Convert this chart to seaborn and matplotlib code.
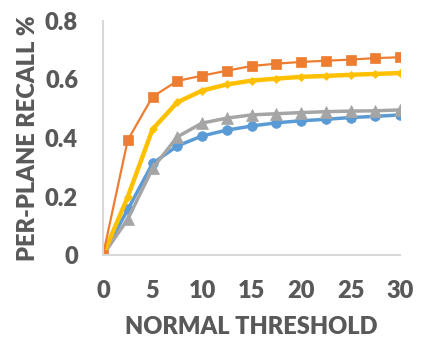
import pandas as pd
import matplotlib.pyplot as plt
import seaborn as sns

# Data
thresholds = [0, 2.5, 5, 7.5, 10, 12.5, 15, 17.5, 20, 22.5, 25, 27.5, 30]
blue_recall = [0, 0.156, 0.313, 0.373, 0.407, 0.427, 0.441, 0.452, 0.459, 0.464, 0.470, 0.474, 0.479]
orange_recall = [0, 0.393, 0.541, 0.595, 0.613, 0.630, 0.646, 0.654, 0.660, 0.664, 0.668, 0.673, 0.676]
gray_recall = [0, 0.123, 0.296, 0.404, 0.451, 0.468, 0.479, 0.483, 0.487, 0.490, 0.492, 0.493, 0.496]
yellow_recall = [0, 0.199, 0.430, 0.522, 0.562, 0.583, 0.596, 0.603, 0.609, 0.612, 0.616, 0.619, 0.622]

sns.set_style("white")
plt.rcParams['font.family'] = ['Lato', 'DejaVu Sans']

text_color = '#595959'
axis_color = '#D9D9D9'

fig = plt.figure(figsize=(4.23, 3.49), dpi=100)
ax = fig.add_axes([0.2435, 0.269, 0.7025, 0.671])

series = [
    (blue_recall, '#5B9BD5', 'o', 2.5, 7.0),
    (gray_recall, '#A5A5A5', '^', 2.5, 8.0),
    (yellow_recall, '#FFC000', 'D', 3.2, 4.5),
    (orange_recall, '#ED7D31', 's', 1.6, 7.0),
]
for vals, color, marker, lw, ms in series:
    df = pd.DataFrame({'threshold': thresholds, 'recall': vals})
    sns.lineplot(data=df, x='threshold', y='recall', ax=ax, color=color,
                 marker=marker, linewidth=lw, markersize=ms,
                 markeredgecolor=color, markeredgewidth=0.5)

ax.set_xlim(0, 30)
ax.set_ylim(0, 0.8)
ax.set_xticks([0, 5, 10, 15, 20, 25, 30])
ax.set_yticks([0, 0.2, 0.4, 0.6, 0.8])
ax.set_yticklabels(['0', '0.2', '0.4', '0.6', '0.8'])
ax.tick_params(axis='both', length=0, colors=text_color, labelsize=17)
ax.tick_params(axis='x', pad=18)
ax.tick_params(axis='y', pad=18)
for lab in ax.get_xticklabels() + ax.get_yticklabels():
    lab.set_fontweight('heavy')

ax.set_xlabel('NORMAL THRESHOLD', fontsize=17, fontweight='heavy', color=text_color, labelpad=10)
ax.set_ylabel('PER-PLANE RECALL %', fontsize=17, fontweight='heavy', color=text_color, labelpad=4)

for side in ['top', 'right']:
    ax.spines[side].set_visible(False)
for side in ['left', 'bottom']:
    ax.spines[side].set_color(axis_color)
    ax.spines[side].set_linewidth(1.5)
ax.grid(False)

fig.savefig('out.png', dpi=100)
